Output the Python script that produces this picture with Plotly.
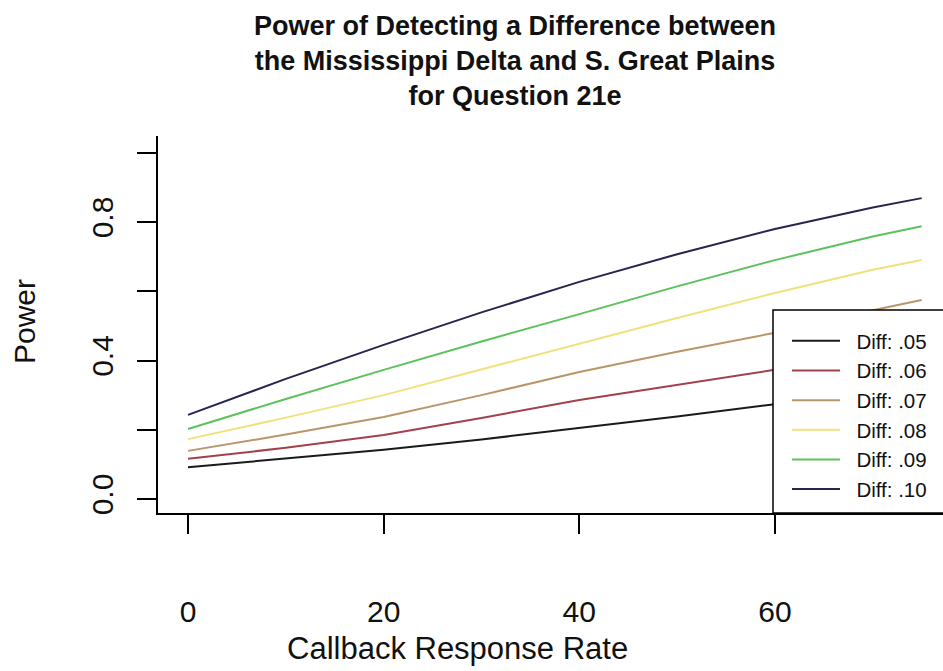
import plotly.graph_objects as go

# ---- data ----
callback_rate = [0, 10, 20, 30, 40, 50, 60, 70, 75]
series_names = ["Diff: .05", "Diff: .06", "Diff: .07", "Diff: .08", "Diff: .09", "Diff: .10"]
power_05 = [0.092, 0.116, 0.142, 0.172, 0.205, 0.238, 0.274, 0.310, 0.330]
power_06 = [0.116, 0.148, 0.185, 0.234, 0.286, 0.330, 0.373, 0.415, 0.440]
power_07 = [0.139, 0.186, 0.237, 0.300, 0.367, 0.425, 0.480, 0.545, 0.575]
power_08 = [0.173, 0.235, 0.300, 0.375, 0.450, 0.523, 0.595, 0.662, 0.690]
power_09 = [0.202, 0.289, 0.373, 0.455, 0.534, 0.614, 0.690, 0.758, 0.788]
power_10 = [0.243, 0.347, 0.445, 0.539, 0.627, 0.707, 0.780, 0.842, 0.869]
x_ticks = [0, 20, 40, 60]
y_ticks = [0.0, 0.2, 0.4, 0.6, 0.8, 1.0]
y_tick_labels = ["0.0", "", "0.4", "", "0.8", ""]

all_power = [power_05, power_06, power_07, power_08, power_09, power_10]
colors = ["#1a1a1a", "#a3404c", "#bb956a", "#f0e27a", "#5cc25c", "#26264f"]

W, H = 943, 671
PL, PR, PT, PB = 158, 943, 136, 513          # plot area in page pixels
L, R, T, B = PL, W - PR, PT, H - PB
pw, ph = PR - PL, PB - PT


def px(xs):
    return (xs - PL) / pw


def py(ys):
    return (PB - ys) / ph


fig = go.Figure()
for name, vals, c in zip(series_names, all_power, colors):
    fig.add_trace(go.Scatter(x=callback_rate, y=vals, mode="lines",
                             name="\u00a0\u00a0" + name,
                             line=dict(color=c, width=2)))

FONT = "Liberation Sans, Arial, sans-serif"
TXT = "#111111"

# legend box (right edge runs off the picture like in the reference)
fig.add_shape(type="rect", xref="paper", yref="paper", x0=px(773), x1=1.1, y0=0.0, y1=py(310),
              line=dict(color="black", width=1.5), fillcolor="white", layer="above")

fig.update_layout(
    width=W, height=H,
    margin=dict(l=L, r=R, t=T, b=B, autoexpand=False),
    paper_bgcolor="white", plot_bgcolor="white",
    font=dict(family=FONT, color=TXT),
    title=dict(text="<b>Power of Detecting a Difference between<br>the Mississippi Delta and S. Great Plains<br>for Question 21e</b>",
               x=515 / W, xref="container", xanchor="center",
               y=1 - 35 / H, yref="container", yanchor="top",
               font=dict(size=27, family=FONT, color=TXT)),
    showlegend=True,
    legend=dict(x=px(787), y=py(321), xanchor="left", yanchor="top",
                bgcolor="rgba(0,0,0,0)", borderwidth=0,
                font=dict(size=20.5, family=FONT, color=TXT),
                itemwidth=48),
    xaxis=dict(range=[-3.067, 77.18], tickvals=x_ticks, ticktext=[str(v) for v in x_ticks],
               showgrid=False, zeroline=False, showline=True, linecolor="black", linewidth=1.5,
               ticks="outside", ticklen=19, tickwidth=1.5, tickcolor="black", automargin=False,
               tickfont=dict(size=30, family=FONT, color=TXT), ticklabelstandoff=52),
    yaxis=dict(range=[-0.0404, 1.0484], tickvals=y_ticks, ticktext=y_tick_labels,
               showgrid=False, zeroline=False, showline=True, linecolor="black", linewidth=1.5,
               ticks="outside", ticklen=19, tickwidth=1.5, tickcolor="black", tickangle=-90,
               automargin=False,
               tickfont=dict(size=30, family=FONT, color=TXT), ticklabelstandoff=12),
    annotations=[
        dict(text="Callback Response Rate", xref="paper", yref="paper",
             x=px(457), y=py(648), xanchor="center", yanchor="middle",
             showarrow=False, font=dict(size=31, family=FONT, color=TXT)),
        dict(text="Power", xref="paper", yref="paper", textangle=-90,
             x=px(24), y=py(322), xanchor="center", yanchor="middle",
             showarrow=False, font=dict(size=30, family=FONT, color=TXT)),
    ],
)

# remove the browser's default 8px page margin so the figure fills the window
fig.write_html("out.html", config={"displayModeBar": False},
               post_script="document.body.style.margin='0px';document.body.style.overflow='hidden';")
